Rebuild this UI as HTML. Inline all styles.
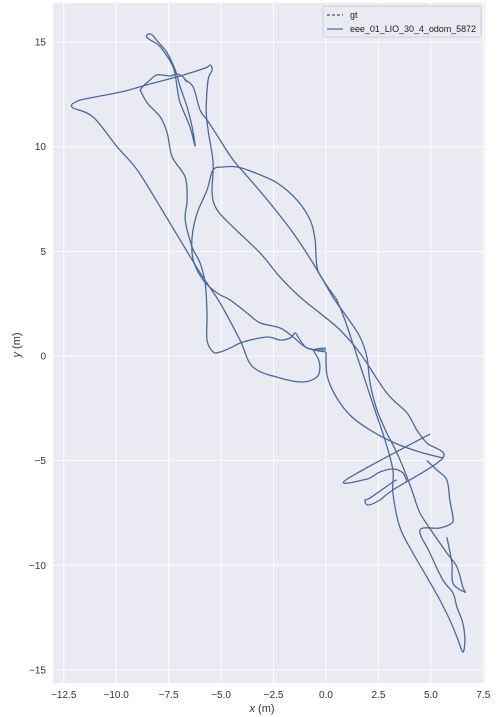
<!DOCTYPE html>
<html><head><meta charset="utf-8"><style>
body{margin:0;background:#fff;}
svg{display:block;font-family:"Liberation Sans","DejaVu Sans",sans-serif;}
</style></head><body>
<svg id="chart" width="504" height="717" viewBox="0 0 504 717"></svg>
<script>
const xTicks=[-12.5,-10,-7.5,-5,-2.5,0,2.5,5,7.5];
const xTickLabels=["−12.5","−10.0","−7.5","−5.0","−2.5","0.0","2.5","5.0","7.5"];
const yTicks=[-15,-10,-5,0,5,10,15];
const yTickLabels=["−15","−10","−5","0","5","10","15"];
const seg1X=[-12.10,-11.71,-10.76,-9.57,-8.38,-6.95,-5.76,-5.52,-5.43,-5.62,-5.71,-5.62,-5.38,-5.43,-5.19,-4.43,-3.14,-2.19,-1.24,-0.29,0.67,1.62,2.90,3.86,4.33,4.81,5.57,3.19,2.57,2.00,1.86,2.10,3.19,3.38];
const seg1Y=[12.04,12.23,12.42,12.66,13.00,13.38,13.76,13.90,13.66,13.19,11.75,10.80,9.22,7.79,6.98,6.16,4.92,3.77,2.82,2.05,1.24,0.14,-1.77,-2.72,-3.54,-4.16,-4.87,-6.40,-6.88,-7.12,-6.88,-6.78,-6.02,-5.92];
const seg2X=[4.95,0.95,1.95,2.57,3.19,3.67,3.86];
const seg2Y=[-3.73,-5.92,-5.88,-5.54,-5.40,-5.59,-6.02];
const seg3X=[-12.10,-12.05,-11.10,-9.95,-9.00,-7.90,-6.95,-6.00,-5.05,-4.10,-3.48,-2.19,-1.10,-0.43,-0.29,-0.38,-0.57,0];
const seg3Y=[12.04,11.85,11.42,9.99,8.89,7.12,5.54,3.97,2.53,0.76,-0.53,-1.05,-1.24,-1.00,-0.53,-0.10,0.29,0.38];
const seg4X=[-8.86,-8.52,-7.90,-7.57,-7.33,-6.71,-6.62,-6.71,-6.38,-6.00,-5.76,-5.67,-5.67,-5.38,-5.05,-4.57,-3.95,-2.81,-2.19,-1.71,-1.48,-1.33,-1.14,-0.90,-0.43,0];
const seg4Y=[12.71,12.09,11.42,10.65,9.51,8.55,7.45,6.50,5.21,4.44,3.49,2.05,0.76,0.19,0.19,0.38,0.67,0.91,0.76,0.86,1.10,0.91,0.62,0.38,0.29,0.29];
const seg5X=[-6.62,-6.71,-6.33,-6.00,-5.67,-5.05,-4.43,-3.48,-2.52,-1.57,-0.62,0.33,1.00,1.62,1.95,2.10,2.43,2.90,3.38,3.86,4.14,4.48,5.10,5.76,6.24,6.52,6.62,6.05,6.00,5.76];
const seg5Y=[13.09,13.19,12.85,11.75,11.28,10.32,9.37,8.27,7.12,5.88,4.44,2.82,1.86,0.91,-0.05,-1.29,-2.58,-3.68,-4.63,-5.78,-6.55,-7.50,-8.46,-9.41,-10.08,-11.04,-11.28,-10.85,-9.89,-8.65];
const seg6X=[0.52,-0.14,-0.43,-0.52,-0.76,-1.38,-2.33,-3.48,-4.24,-4.90,-5.38,-5.67,-6.14,-6.38,-6.33,-5.86,-5.19,-4.57,-3.76,-3.14,-2.19,-1.57,-0.90,0];
const seg6Y=[2.68,3.63,4.25,5.54,6.50,7.45,8.27,8.79,9.03,9.03,8.89,7.93,6.83,5.69,4.59,3.63,3.01,2.68,2.05,1.58,1.34,0.91,0.38,0.19];
const seg7X=[0,0.05,0.43,1.14,2.10,3.29,4.48,5.57];
const seg7Y=[0.19,-0.91,-1.86,-2.82,-3.54,-4.16,-4.59,-4.87];
const seg8X=[4.81,5.29,5.76,5.90,6.05,6.00,5.43,4.48,4.95,5.57,6.05,6.24,6.52,6.62,6.52,6.24,5.90,5.43,4.81,4.14,3.52,3.19,3.19,2.81,2.33,1.86,1.38,0.90,0.52];
const seg8Y=[-5.00,-5.45,-5.92,-6.88,-7.69,-7.98,-8.22,-8.31,-9.41,-10.70,-11.32,-11.99,-12.76,-13.57,-14.14,-13.42,-12.61,-11.66,-10.56,-9.41,-8.17,-6.55,-5.45,-4.01,-2.58,-1.15,0.29,1.72,2.68];
const seg9X=[-8.57,-8.48,-8.29,-8.00,-7.57,-7.19,-6.95,-6.62,-6.38,-6.24,-6.48,-6.95,-7.10,-7.29,-7.90,-8.38,-8.57];
const seg9Y=[15.24,15.38,15.34,15.00,14.48,13.67,12.85,11.90,10.94,10.03,10.94,12.09,12.85,13.81,14.77,15.10,15.24];
const seg10X=[-8.86,-8.71,-8.38,-8.05,-7.43,-7.10,-6.81,-6.62];
const seg10Y=[12.71,12.90,13.19,13.43,13.38,13.48,13.33,13.09];
const X0=53,X1=485,Y0=3,Y1=683;
function sx(x){return 326+x*20.98;}
function sy(y){return 356-y*20.93;}
const NS="http://www.w3.org/2000/svg";
const svg=document.getElementById('chart');
function mk(tag,attrs,parent){const e=document.createElementNS(NS,tag);for(const k in attrs)e.setAttribute(k,attrs[k]);(parent||svg).appendChild(e);return e;}
function smoothPath(p){
 let d='M'+p[0][0].toFixed(1)+','+p[0][1].toFixed(1);
 for(let i=0;i<p.length-1;i++){
  const a=p[Math.max(0,i-1)],b=p[i],c=p[i+1],e=p[Math.min(p.length-1,i+2)];
  const c1x=b[0]+(c[0]-a[0])/6,c1y=b[1]+(c[1]-a[1])/6;
  const c2x=c[0]-(e[0]-b[0])/6,c2y=c[1]-(e[1]-b[1])/6;
  d+=' C'+c1x.toFixed(1)+','+c1y.toFixed(1)+' '+c2x.toFixed(1)+','+c2y.toFixed(1)+' '+c[0].toFixed(1)+','+c[1].toFixed(1);
 }
 return d;
}
const bg=mk('rect',{x:X0,y:Y0,width:X1-X0,height:Y1-Y0,fill:'#eaeaf2'});


xTicks.forEach((t,i)=>{
 const l=mk('line',{x1:sx(t),x2:sx(t),y1:Y0,y2:Y1,stroke:'#fff','stroke-width':1});
 
 
 const tx=mk('text',{x:sx(t),y:698,'text-anchor':'middle','font-size':10,fill:'#333'});
 tx.textContent=xTickLabels[i];
 
 
});
yTicks.forEach((t,i)=>{
 const l=mk('line',{x1:X0,x2:X1,y1:sy(t),y2:sy(t),stroke:'#fff','stroke-width':1});
 
 
 const tx=mk('text',{x:46,y:sy(t)+3.5,'text-anchor':'end','font-size':10,fill:'#333'});
 tx.textContent=yTickLabels[i];
 
 
});
const segs=[[seg1X,seg1Y],[seg2X,seg2Y],[seg3X,seg3Y],[seg4X,seg4Y],[seg5X,seg5Y],[seg6X,seg6Y],[seg7X,seg7Y],[seg8X,seg8Y],[seg9X,seg9Y],[seg10X,seg10Y]];
segs.forEach(s=>{
 const pts=s[0].map((x,i)=>[sx(x),sy(s[1][i])]);
 const d=smoothPath(pts);
 const a=mk('path',{d:d,fill:'none',stroke:'#4c72b0','stroke-width':1.3,'stroke-linejoin':'round'});
 
 
 const b=mk('path',{d:d,fill:'none',stroke:'#444','stroke-width':0.8,'stroke-dasharray':'2,1.5','stroke-opacity':0.45});
 
 
});
</script>
<svg width="504" height="717" style="position:absolute;left:0;top:0">
<text x="262" y="712" text-anchor="middle" font-size="11" fill="#333" font-family="Liberation Sans, sans-serif"><tspan font-style="italic">x</tspan> (m)</text>
<text x="20" y="345" text-anchor="middle" font-size="11" fill="#333" font-family="Liberation Sans, sans-serif" transform="rotate(-90 20 345)"><tspan font-style="italic">y</tspan> (m)</text>
<g>
<rect x="323" y="6" width="158" height="31" rx="2" fill="#eaeaf2" fill-opacity="0.85" stroke="#d0d0d8"/>
<line x1="327" y1="15" x2="343" y2="15" stroke="#555" stroke-width="1.2" stroke-dasharray="3,2"/>
<text x="350" y="18" font-size="9" fill="#222" font-family="Liberation Sans, sans-serif">gt</text>
<line x1="327" y1="29" x2="343" y2="29" stroke="#4c72b0" stroke-width="1.3"/>
<text x="350" y="32" font-size="9" fill="#222" font-family="Liberation Sans, sans-serif" textLength="126">eee_01_LIO_30_4_odom_5872</text>
</g>
</svg>
</body></html>
